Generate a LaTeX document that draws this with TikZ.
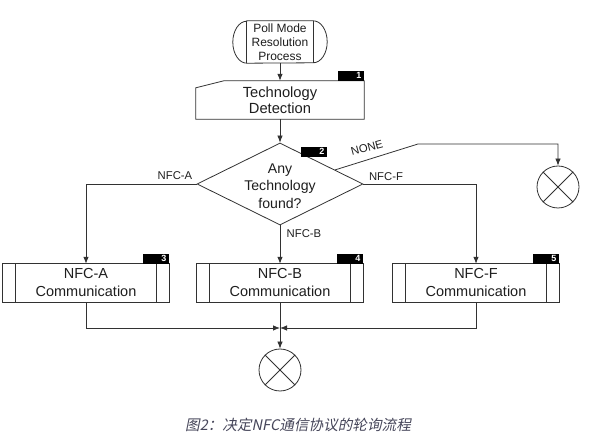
\documentclass[tikz,border=0pt]{standalone}
\usepackage{fontspec}
\setmainfont{Liberation Sans}
\newfontfamily\cjk[FakeSlant=0.2]{Noto Sans CJK SC}
\usetikzlibrary{arrows.meta,shapes.geometric,calc}
\definecolor{lc}{RGB}{50,50,50}
\definecolor{tc}{RGB}{30,30,30}
\definecolor{capc}{RGB}{70,70,90}
\begin{document}
\begin{tikzpicture}[x=1pt,y=-1pt,
  line/.style={draw=lc, line width=0.8pt},
  arr/.style={line, -{Latex[length=7pt,width=5.5pt]}},
  comm/.style={minimum width=166pt, minimum height=38pt, inner sep=0, align=center, text=tc, font=\fontsize{14.5}{18}\selectfont},
  numbox/.style={fill=black, text=white, font=\fontsize{9}{9}\selectfont\bfseries, minimum height=10pt, text width=21pt, align=right, inner xsep=2.5pt, inner ysep=0},
  lab/.style={text=tc, font=\fontsize{11.3}{12}\selectfont, inner sep=0},
  endc/.style={circle, draw=lc, line width=0.8pt, minimum size=42pt, inner sep=0}
]
\fill[white] (0,0) rectangle (603,438);
\useasboundingbox (0,0) rectangle (603,438);

% start terminal
\node[minimum width=94pt, minimum height=42pt, inner sep=0, align=center, font=\fontsize{12}{14}\selectfont, text=tc] (poll) at (280,42) {Poll Mode\\Resolution\\Process};
\draw[line] ($(poll.north west)+(14pt,0)$) -- ($(poll.north east)+(-14pt,0)$) arc[start angle=90,end angle=-90,x radius=14pt,y radius=21pt] -- ($(poll.south west)+(14pt,0)$) arc[start angle=270,end angle=90,x radius=14pt,y radius=21pt] -- cycle;
\draw[line] ($(poll.north west)+(14pt,0)$) -- ($(poll.south west)+(14pt,0)$);
\draw[line] ($(poll.north east)+(-14pt,0)$) -- ($(poll.south east)+(-14pt,0)$);

% technology detection
\node[comm, minimum width=168pt, font=\fontsize{14.7}{15.5}\selectfont] (det) at (280,100) {Technology\\Detection};
\draw[line] (det.south west) -- ($(det.north west)+(0,-7pt)$) -- ($(det.north west)+(28pt,0)$) -- (det.north east) -- (det.south east) -- cycle;
\node[numbox, anchor=south east] (n1) at (det.north east) {1};

% decision
\node[diamond, draw=lc, line width=0.8pt, minimum width=166pt, minimum height=82pt, inner sep=0] (dec) at (280,184) {};
\node[font=\fontsize{14.1}{17.5}\selectfont, align=center, text=tc, inner sep=0] (dect) at (280,186) {Any\\Technology\\found?};
\node[numbox, anchor=south east] (n2) at (327,157) {2};

% communication boxes
\node[comm] (ca) at (86,283) {NFC-A\\Communication};
\node[comm] (cb) at (280,283) {NFC-B\\Communication};
\node[comm] (cf) at (476,283) {NFC-F\\Communication};
\foreach \n in {ca,cb,cf} {
  \draw[line] (\n.north west) rectangle (\n.south east);
  \draw[line] ($(\n.north west)+(12.5pt,0)$) -- ($(\n.south west)+(12.5pt,0)$);
  \draw[line] ($(\n.north east)+(-12.5pt,0)$) -- ($(\n.south east)+(-12.5pt,0)$);
}
\node[numbox, anchor=south east] (n3) at (ca.north east) {3};
\node[numbox, anchor=south east] (n4) at (cb.north east) {4};
\node[numbox, anchor=south east] (n5) at (cf.north east) {5};

% end circles
\node[endc] (e1) at (558,187) {};
\draw[line] (e1.north east) -- (e1.south west) (e1.north west) -- (e1.south east);
\node[endc] (e2) at (280,370) {};
\draw[line] (e2.north east) -- (e2.south west) (e2.north west) -- (e2.south east);

% connectors
\draw[arr] (poll.south) -- (det.north);
\draw[arr] (det.south) -- (dec.north);
\coordinate (nb) at (418,144);
\draw[arr] ($(dec.north)!0.66!(dec.east)$) -- (nb) -| (e1.north);
\draw[arr] (dec.west) -| (ca.north);
\draw[arr] (dec.east) -| (cf.north);
\draw[arr] (dec.south) -- (cb.north);
\coordinate (j) at (280,328);
\draw[arr] (ca.south) |- (j);
\draw[arr] (cf.south) |- (j);
\draw[arr] (cb.south) -- (e2.north);

% labels
\node[lab] (la) at (175,176) {NFC-A};
\node[lab] (lf) at (386,177) {NFC-F};
\node[lab] (lb) at (304,234) {NFC-B};
\node[lab, rotate=15] (ln) at (367,148) {NONE};

% caption
\node[text=capc, font=\cjk\fontsize{14.6}{15}\selectfont, inner sep=0] (cap) at (298,425) {图2：决定NFC通信协议的轮询流程};
\end{tikzpicture}
\end{document}
